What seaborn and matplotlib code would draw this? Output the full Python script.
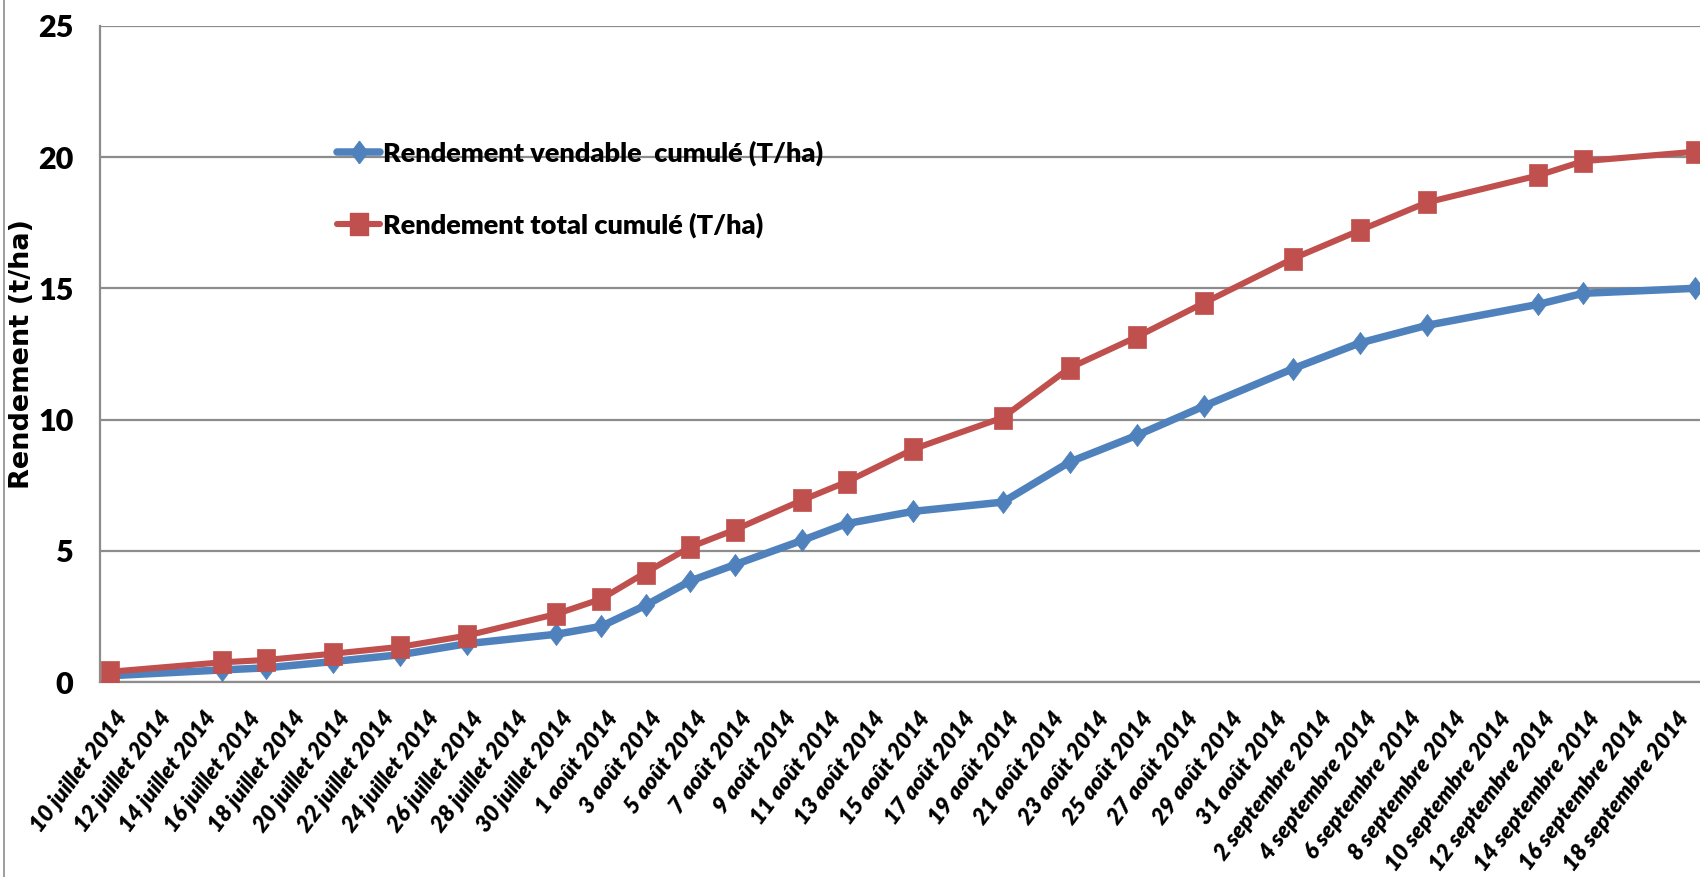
import numpy as np
import pandas as pd
import matplotlib
matplotlib.use("Agg")
import matplotlib.pyplot as plt
import matplotlib.dates as mdates
import matplotlib.transforms as mtransforms
from matplotlib.lines import Line2D
import seaborn as sns

# ---------------- data ----------------
dates = ["2014-07-10", "2014-07-15", "2014-07-17", "2014-07-20", "2014-07-23",
         "2014-07-26", "2014-07-30", "2014-08-01", "2014-08-03", "2014-08-05",
         "2014-08-07", "2014-08-10", "2014-08-12", "2014-08-15", "2014-08-19",
         "2014-08-22", "2014-08-25", "2014-08-28", "2014-09-01", "2014-09-04",
         "2014-09-07", "2014-09-12", "2014-09-14", "2014-09-19"]
vendable = [0.25, 0.47, 0.55, 0.79, 1.05, 1.47, 1.83, 2.13, 2.93, 3.86, 4.48, 5.40,
            6.04, 6.51, 6.86, 8.39, 9.40, 10.51, 11.94, 12.92, 13.59, 14.39, 14.81, 15.00]
total = [0.40, 0.76, 0.85, 1.09, 1.35, 1.78, 2.60, 3.17, 4.18, 5.15, 5.81, 6.93,
         7.63, 8.88, 10.08, 11.97, 13.15, 14.44, 16.13, 17.21, 18.27, 19.30, 19.84, 20.20]
series_names = ["Rendement vendable  cumulé (T/ha)", "Rendement total cumulé (T/ha)"]

tick_dates = pd.date_range("2014-07-10", "2014-09-18", freq="2D")
tick_labels = ["10 juillet 2014", "12 juillet 2014", "14 juillet 2014", "16 juillet 2014",
               "18 juillet 2014", "20 juillet 2014", "22 juillet 2014", "24 juillet 2014",
               "26 juillet 2014", "28 juillet 2014", "30 juillet 2014", "1 août 2014",
               "3 août 2014", "5 août 2014", "7 août 2014", "9 août 2014", "11 août 2014",
               "13 août 2014", "15 août 2014", "17 août 2014", "19 août 2014", "21 août 2014",
               "23 août 2014", "25 août 2014", "27 août 2014", "29 août 2014", "31 août 2014",
               "2 septembre 2014", "4 septembre 2014", "6 septembre 2014", "8 septembre 2014",
               "10 septembre 2014", "12 septembre 2014", "14 septembre 2014",
               "16 septembre 2014", "18 septembre 2014"]
y_ticks = [0, 5, 10, 15, 20, 25]
y_label = "Rendement (t/ha)"

df = pd.DataFrame({"date": pd.to_datetime(dates), "vendable": vendable, "total": total})

# ---------------- style ----------------
sns.set_style("white")
narrow = ["Lato", "DejaVu Sans"]
plt.rcParams["font.family"] = narrow

BLUE = "#4F81BD"
RED = "#C0504D"
GRID = "#8C8C8C"
HEAVY = "heavy"

fig = plt.figure(figsize=(17, 8.77), dpi=100)
ax = fig.add_axes([100 / 1700, 1 - 682.3 / 877, 1 - 100 / 1700, (682.3 - 25.7) / 877])

diamond = np.array([[0, -1], [0.75, 0], [0, 1], [-0.75, 0], [0, -1]])
square = np.array([[-0.76, -1], [0.76, -1], [0.76, 1], [-0.76, 1], [-0.76, -1]])

LW_B, LW_R = 5.4, 4.4
MS_B, MS_R = 16, 16.5

sns.lineplot(data=df, x="date", y="vendable", ax=ax, color=BLUE, lw=LW_B,
             marker=diamond, markersize=MS_B, markeredgecolor=BLUE,
             markerfacecolor=BLUE, markeredgewidth=0.5, zorder=3, label=series_names[0])
sns.lineplot(data=df, x="date", y="total", ax=ax, color=RED, lw=LW_R,
             marker=square, markersize=MS_R, markeredgecolor=RED,
             markerfacecolor=RED, markeredgewidth=0.5, zorder=4, label=series_names[1])

x0 = mdates.date2num(pd.Timestamp("2014-07-10"))
ax.set_xlim(x0 - 0.448, x0 + 71.24)
ax.set_ylim(0, 25)

# grid & spines
ax.set_yticks(y_ticks)
ax.yaxis.grid(True, color=GRID, lw=1.6, zorder=0)
ax.xaxis.grid(False)
for s in ["top", "right"]:
    ax.spines[s].set_visible(False)
for s in ["left", "bottom"]:
    ax.spines[s].set_color(GRID)
    ax.spines[s].set_linewidth(1.6)

ax.tick_params(axis="y", length=0, pad=19, labelsize=22, labelcolor="black")
for lab in ax.get_yticklabels():
    lab.set_fontweight(HEAVY)

ax.set_xticks(mdates.date2num(tick_dates))
ax.set_xticklabels(tick_labels, rotation=53, ha="right", va="top",
                   rotation_mode="anchor", fontsize=16.5, fontweight=HEAVY,
                   fontstyle="italic", color="black")
ax.tick_params(axis="x", length=0, pad=18.5)
offset = mtransforms.ScaledTranslation(4 / 100, 0, fig.dpi_scale_trans)
for lab in ax.get_xticklabels():
    lab.set_transform(lab.get_transform() + offset)

ax.set_xlabel("")
ax.set_ylabel(y_label, fontsize=19.5, fontweight="bold", family=["DejaVu Sans"],
              color="black")
ax.yaxis.set_label_coords(-0.0405, 0.5)

# legend
handles = [Line2D([], [], color=BLUE, lw=LW_B, marker=diamond, markersize=MS_B,
                  markerfacecolor=BLUE, markeredgecolor=BLUE),
           Line2D([], [], color=RED, lw=LW_R, marker=square, markersize=MS_R,
                  markerfacecolor=RED, markeredgecolor=RED)]
leg = ax.legend(handles, series_names, loc="center left",
                bbox_to_anchor=(337 / 1700, 1 - 189 / 877),
                bbox_transform=fig.transFigure, frameon=False, borderpad=0,
                borderaxespad=0, handlelength=1.6, handletextpad=0.1,
                labelspacing=1.7,
                prop={"family": narrow, "weight": HEAVY, "size": 19.5})
for t in leg.get_texts():
    t.set_color("black")

# chart-area left border
fig.add_artist(Line2D([3.5 / 1700, 3.5 / 1700], [0, 1], transform=fig.transFigure,
                      color=GRID, lw=1.2))

fig.savefig("out.png", dpi=100)
